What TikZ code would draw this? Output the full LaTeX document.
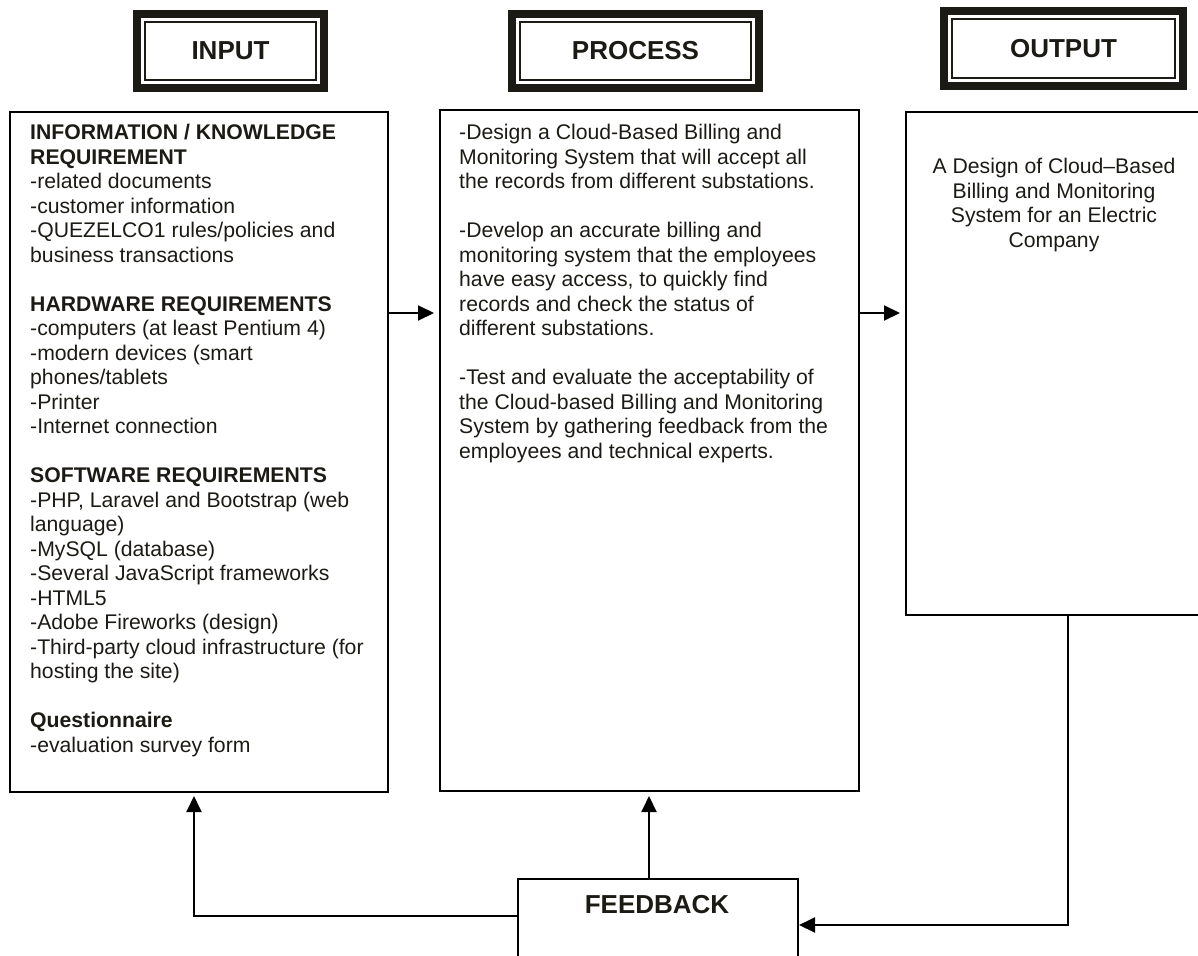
\documentclass[tikz,border=0pt]{standalone}
\usepackage{fontspec}
\setmainfont{Liberation Sans}
\usetikzlibrary{arrows.meta}
\definecolor{ink}{HTML}{1C1A14}
\tikzset{
  body/.style={font=\fontsize{21.2}{24.5}\selectfont, inner sep=0pt, text=ink},
  mainbox/.style={draw=black, line width=2pt, rectangle, inner sep=0pt, anchor=north west},
  headouter/.style={draw=ink, line width=8pt, rectangle, inner sep=0pt},
  headinner/.style={draw=ink, line width=2pt, rectangle, inner sep=0pt, text=ink, font=\fontsize{26}{30}\selectfont\bfseries},
  arr/.style={line width=2pt, -{Triangle[length=16pt,width=15pt]}},
  link/.style={line width=2pt}
}
\begin{document}
\begin{tikzpicture}[x=1pt,y=-1pt]
\useasboundingbox (0,0) rectangle (1198,955);
\clip (0,0) rectangle (1198,955);

% header frames
\node[headouter, minimum width=187pt, minimum height=74pt] (hin) at (230.5,51) {};
\node[headinner, minimum width=171pt, minimum height=58pt] (hint) at (230.5,51) {INPUT};
\node[headouter, minimum width=247pt, minimum height=74pt] (hpr) at (635.5,51) {};
\node[headinner, minimum width=231pt, minimum height=58pt] (hprt) at (635.5,51) {PROCESS};
\node[headouter, minimum width=239pt, minimum height=75pt] (hout) at (1063.5,48.5) {};
\node[headinner, minimum width=223pt, minimum height=59pt] (houtt) at (1063.5,48.5) {OUTPUT};

% main boxes
\node[mainbox, minimum width=378pt, minimum height=680pt] (inbox) at (9,111) {};
\node[mainbox, minimum width=419pt, minimum height=681pt] (procbox) at (439,109) {};
\node[mainbox, minimum width=300pt, minimum height=503pt] (outbox) at (905,111) {};
\node[mainbox, minimum width=280pt, minimum height=120pt] (fb) at (517,878) {};

% texts
\node[body, anchor=north west, align=left] (intext) at (30,124) {%
\textbf{INFORMATION / KNOWLEDGE}\\
\textbf{REQUIREMENT}\\
-related documents\\
-customer information\\
-QUEZELCO1 rules/policies and\\
business transactions\\[24.5pt]
\textbf{HARDWARE REQUIREMENTS}\\
-computers (at least Pentium 4)\\
-modern devices (smart\\
phones/tablets\\
-Printer\\
-Internet connection\\[24.5pt]
\textbf{SOFTWARE REQUIREMENTS}\\
-PHP, Laravel and Bootstrap (web\\
language)\\
-MySQL (database)\\
-Several JavaScript frameworks\\
-HTML5\\
-Adobe Fireworks (design)\\
-Third-party cloud infrastructure (for\\
hosting the site)\\[24.5pt]
\textbf{Questionnaire}\\
-evaluation survey form};

\node[body, anchor=north west, align=left] (proctext) at (459,124) {%
-Design a Cloud-Based Billing and\\
Monitoring System that will accept all\\
the records from different substations.\\[24.5pt]
-Develop an accurate billing and\\
monitoring system that the employees\\
have easy access, to quickly find\\
records and check the status of\\
different substations.\\[24.5pt]
-Test and evaluate the acceptability of\\
the Cloud-based Billing and Monitoring\\
System by gathering feedback from the\\
employees and technical experts.};

\node[body, anchor=north, align=center] (outtext) at (1054,158) {%
A Design of Cloud–Based\\
Billing and Monitoring\\
System for an Electric\\
Company};

\node[font=\fontsize{26}{30}\selectfont\bfseries, text=ink, inner sep=0pt] (fbtext) at (657,905) {FEEDBACK};

% connectors
\coordinate (r) at (0,313);
\coordinate (lc) at (194,916);
\coordinate (rc) at (1068,925);
\draw[arr, shorten >=5pt] (inbox.east |- r) -- (procbox.west |- r);
\draw[arr, shorten >=5pt] (procbox.east |- r) -- (outbox.west |- r);
\draw[arr, shorten >=4pt] (fb.north -| 649,0) -- (procbox.south -| 649,0);
\draw[arr, shorten >=3pt] (fb.west |- lc) -- (lc) -- (lc |- inbox.south);
\draw[arr] (outbox.south -| rc) -- (rc) -- (fb.east |- rc);
\end{tikzpicture}
\end{document}
